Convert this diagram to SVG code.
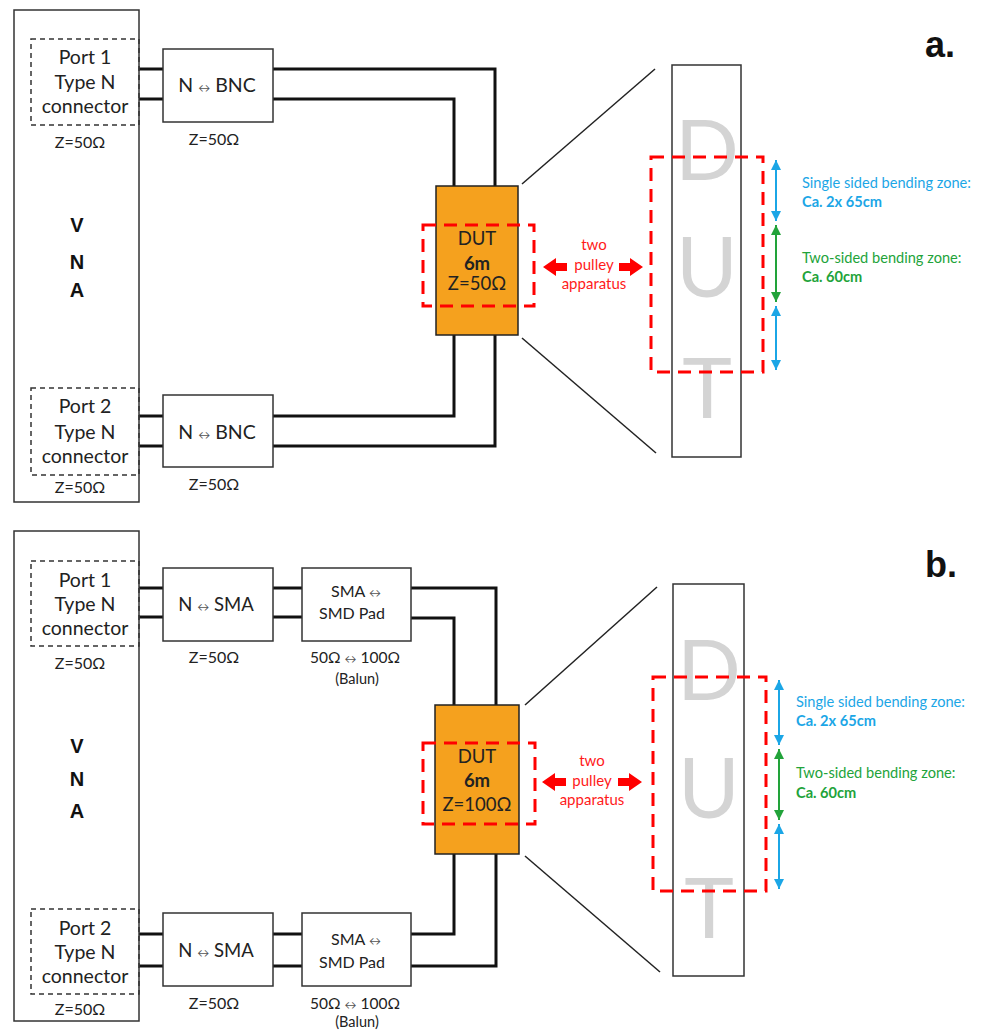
<svg xmlns="http://www.w3.org/2000/svg" width="983" height="1031" viewBox="0 0 983 1031">
<defs>
<style>
.box{fill:#fff;stroke:#333;stroke-width:1.5}
.port{fill:none;stroke:#333;stroke-width:1.5;stroke-dasharray:5 4}
.dut{fill:#F5A11E;stroke:#222;stroke-width:1.5}
.long{fill:none;stroke:#333;stroke-width:1.5}
.wire{fill:none;stroke:#111;stroke-width:3}
.zoomline{stroke:#222;stroke-width:1.5}
.rdash{fill:none;stroke:#FF0000;stroke-width:3;stroke-dasharray:13 8}
.t{font-family:Lato,"Liberation Sans",sans-serif;fill:#222;text-anchor:middle}
.t19{font-size:19.5px}
.t18{font-size:18.5px}
.t16{font-size:16px}
.t15{font-size:15.5px}
.arr{font-size:12px;fill:#555}
.vna{font-family:"Liberation Sans",Arial,sans-serif;font-weight:bold;font-size:20px;text-anchor:middle;fill:#111}
.lab{font-family:"Liberation Sans",Arial,sans-serif;font-weight:bold;font-size:36px;fill:#111}
.red{font-family:Lato,"Liberation Sans",sans-serif;font-size:15px;fill:#FF1A1A;text-anchor:middle}
.big{font-family:Lato,"Liberation Sans",sans-serif;font-size:84px;fill:#D4D4D4;text-anchor:middle}
.blue{font-family:Lato,"Liberation Sans",sans-serif;font-size:14.6px;fill:#1BA6E6}
.green{font-family:Lato,"Liberation Sans",sans-serif;font-size:14.6px;fill:#22A33A}
.b{font-weight:bold}
.bl{stroke:#1BA6E6;stroke-width:2}
.gl{stroke:#22A33A;stroke-width:2}
</style>
<marker id="hb" viewBox="0 0 10 10" refX="10" refY="5" markerWidth="5.5" markerHeight="5" orient="auto-start-reverse" markerUnits="strokeWidth"><path d="M0,0 L10,5 L0,10 z" fill="#1BA6E6"/></marker>
<marker id="hg" viewBox="0 0 10 10" refX="10" refY="5" markerWidth="5.5" markerHeight="5" orient="auto-start-reverse" markerUnits="strokeWidth"><path d="M0,0 L10,5 L0,10 z" fill="#22A33A"/></marker>
</defs>
<rect width="983" height="1031" fill="#fff"/>

<!-- ================= PANEL A ================= -->
<text class="lab" x="925" y="57">a.</text>

<g id="connectors-a">
<path class="wire" d="M139,69 H163 M139,99 H163"/>
<path class="wire" d="M273,69 H495 V186 M273,99 H454 V186"/>
<path class="wire" d="M139,416 H163 M139,446 H163"/>
<path class="wire" d="M273,416 H454 V335 M273,446 H495 V335"/>
<line class="zoomline" x1="522" y1="184" x2="655" y2="69"/>
<line class="zoomline" x1="522" y1="338" x2="656" y2="453"/>
</g>

<g id="vna-a">
<rect class="box" x="14" y="10" width="125" height="492"/>
<text class="vna" x="77" y="232">V</text>
<text class="vna" x="77" y="269">N</text>
<text class="vna" x="77" y="297">A</text>
</g>
<g id="port1-a">
<rect class="port" x="31" y="39" width="108" height="86"/>
<text class="t t19" x="85" y="64">Port 1</text>
<text class="t t19" x="85" y="89">Type N</text>
<text class="t t19" x="85" y="113">connector</text>
<text class="t t16" x="80" y="148">Z=50Ω</text>
</g>
<g id="port2-a">
<rect class="port" x="31" y="388" width="108" height="87"/>
<text class="t t19" x="85" y="413">Port 2</text>
<text class="t t19" x="85" y="439">Type N</text>
<text class="t t19" x="85" y="463">connector</text>
<text class="t t16" x="80" y="493">Z=50Ω</text>
</g>
<g id="adapter1-a">
<rect class="box" x="163" y="49" width="110" height="73"/>
<text class="t t19" x="217" y="92">N <tspan class="arr">↔</tspan> BNC</text>
<text class="t t16" x="214" y="145">Z=50Ω</text>
</g>
<g id="adapter2-a">
<rect class="box" x="163" y="395" width="110" height="72"/>
<text class="t t19" x="217" y="439">N <tspan class="arr">↔</tspan> BNC</text>
<text class="t t16" x="214" y="490">Z=50Ω</text>
</g>
<g id="dut-a">
<rect class="dut" x="436" y="186" width="82" height="149"/>
<text class="t t18" x="477" y="245">DUT</text>
<text class="t t18 b" x="477" y="270">6m</text>
<text class="t t18" x="477" y="290">Z=50Ω</text>
<rect class="rdash" x="423" y="225" width="111" height="81"/>
</g>
<g id="pulley-a">
<polygon fill="#FF0000" points="543,267 556,258 556,263 567,263 567,271 556,271 556,276"/>
<polygon fill="#FF0000" points="643,267 630,258 630,263 619,263 619,271 630,271 630,276"/>
<text class="red" x="594" y="250">two</text>
<text class="red" x="594" y="270">pulley</text>
<text class="red" x="594" y="289">apparatus</text>
</g>
<g id="dutzoom-a">
<rect class="long" x="672" y="65" width="69" height="392"/>
<text class="big" x="707" y="180">D</text>
<text class="big" x="707" y="297">U</text>
<text class="big" x="707" y="418">T</text>
<rect class="rdash" x="651" y="157" width="112" height="215"/>
</g>
<g id="zones-a">
<line class="bl" x1="776" y1="160" x2="776" y2="221" marker-start="url(#hb)" marker-end="url(#hb)"/>
<line class="gl" x1="776" y1="225" x2="776" y2="302" marker-start="url(#hg)" marker-end="url(#hg)"/>
<line class="bl" x1="776" y1="306" x2="776" y2="370" marker-start="url(#hb)" marker-end="url(#hb)"/>
<text class="blue" x="802" y="188">Single sided bending zone:</text>
<text class="blue b" x="802" y="207">Ca. 2x 65cm</text>
<text class="green" x="802" y="263">Two-sided bending zone:</text>
<text class="green b" x="802" y="282">Ca. 60cm</text>
</g>

<!-- ================= PANEL B ================= -->
<text class="lab" x="925" y="577">b.</text>

<g id="connectors-b">
<path class="wire" d="M139,588 H163 M139,617 H163 M273,588 H302 M273,617 H302"/>
<path class="wire" d="M411,588 H496 V705 M411,618 H454 V705"/>
<path class="wire" d="M139,934 H163 M139,966 H163 M273,934 H302 M273,966 H302"/>
<path class="wire" d="M411,934 H454 V854 M411,966 H496 V854"/>
<line class="zoomline" x1="525" y1="705" x2="657" y2="587"/>
<line class="zoomline" x1="525" y1="856" x2="660" y2="972"/>
</g>

<g id="vna-b">
<rect class="box" x="14" y="531" width="125" height="490"/>
<text class="vna" x="77" y="753">V</text>
<text class="vna" x="77" y="786">N</text>
<text class="vna" x="77" y="818">A</text>
</g>
<g id="port1-b">
<rect class="port" x="31" y="561" width="108" height="85"/>
<text class="t t19" x="85" y="587">Port 1</text>
<text class="t t19" x="85" y="611">Type N</text>
<text class="t t19" x="85" y="635">connector</text>
<text class="t t16" x="80" y="669">Z=50Ω</text>
</g>
<g id="port2-b">
<rect class="port" x="31" y="909" width="108" height="85"/>
<text class="t t19" x="85" y="935">Port 2</text>
<text class="t t19" x="85" y="959">Type N</text>
<text class="t t19" x="85" y="983">connector</text>
<text class="t t16" x="80" y="1015">Z=50Ω</text>
</g>
<g id="adapter1-b">
<rect class="box" x="163" y="568" width="110" height="73"/>
<text class="t t18" x="216" y="611">N <tspan class="arr">↔</tspan> SMA</text>
<text class="t t16" x="214" y="663">Z=50Ω</text>
</g>
<g id="balun1-b">
<rect class="box" x="302" y="568" width="109" height="73"/>
<text class="t t16" x="356" y="597">SMA <tspan class="arr">↔</tspan></text>
<text class="t t16" x="352" y="619">SMD Pad</text>
<text class="t t15" x="355" y="663">50Ω <tspan class="arr">↔</tspan> 100Ω</text>
<text class="t" style="font-size:14.5px" x="357" y="684">(Balun)</text>
</g>
<g id="adapter2-b">
<rect class="box" x="163" y="913" width="110" height="73"/>
<text class="t t18" x="216" y="957">N <tspan class="arr">↔</tspan> SMA</text>
<text class="t t16" x="214" y="1009">Z=50Ω</text>
</g>
<g id="balun2-b">
<rect class="box" x="302" y="913" width="109" height="73"/>
<text class="t t16" x="356" y="945">SMA <tspan class="arr">↔</tspan></text>
<text class="t t16" x="352" y="968">SMD Pad</text>
<text class="t t15" x="355" y="1009">50Ω <tspan class="arr">↔</tspan> 100Ω</text>
<text class="t" style="font-size:14.5px" x="357" y="1027">(Balun)</text>
</g>
<g id="dut-b">
<rect class="dut" x="435" y="705" width="84" height="149"/>
<text class="t t18" x="477" y="763">DUT</text>
<text class="t t18 b" x="477" y="787">6m</text>
<text class="t t18" x="477" y="811">Z=100Ω</text>
<rect class="rdash" x="423" y="743" width="112" height="81"/>
</g>
<g id="pulley-b">
<polygon fill="#FF0000" points="542,782 555,773 555,778 566,778 566,786 555,786 555,791"/>
<polygon fill="#FF0000" points="642,782 629,773 629,778 618,778 618,786 629,786 629,791"/>
<text class="red" x="592" y="766">two</text>
<text class="red" x="592" y="786">pulley</text>
<text class="red" x="592" y="805">apparatus</text>
</g>
<g id="dutzoom-b">
<rect class="long" x="673" y="584" width="71" height="392"/>
<text class="big" x="709" y="700">D</text>
<text class="big" x="709" y="818">U</text>
<text class="big" x="709" y="938">T</text>
<rect class="rdash" x="653" y="677" width="113" height="214"/>
</g>
<g id="zones-b">
<line class="bl" x1="779" y1="680" x2="779" y2="745" marker-start="url(#hb)" marker-end="url(#hb)"/>
<line class="gl" x1="779" y1="749" x2="779" y2="820" marker-start="url(#hg)" marker-end="url(#hg)"/>
<line class="bl" x1="779" y1="824" x2="779" y2="889" marker-start="url(#hb)" marker-end="url(#hb)"/>
<text class="blue" x="796" y="707">Single sided bending zone:</text>
<text class="blue b" x="796" y="726">Ca. 2x 65cm</text>
<text class="green" x="796" y="778">Two-sided bending zone:</text>
<text class="green b" x="796" y="798">Ca. 60cm</text>
</g>
</svg>
